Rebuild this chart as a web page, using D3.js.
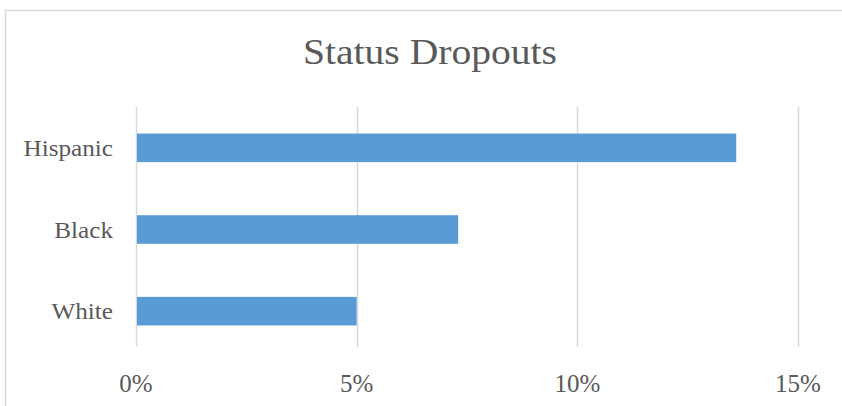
<!DOCTYPE html>
<html>
<head>
<meta charset="utf-8">
<script src="https://d3js.org/d3.v7.min.js"></script>
<style>
  body { margin: 0; background: #fff; }
  svg { display: block; }
  text { font-family: "Liberation Serif", "DejaVu Serif", serif; fill: #595959; }
</style>
</head>
<body>
<div id="chart"></div>
<script>
// data
const categories = ["Hispanic", "Black", "White"];
const values = [0.136, 0.073, 0.050];
const xTicks = [0, 0.05, 0.10, 0.15];
const title = "Status Dropouts";

const W = 842, H = 406;
const svg = d3.select("#chart").append("svg")
  .attr("width", W)
  .attr("height", H);

// chart frame
svg.append("rect")
  .attr("x", 5.5).attr("y", 10.5)
  .attr("width", W).attr("height", H)
  .style("fill", "none")
  .style("stroke", "#d9d9d9")
  .style("stroke-width", 1.5);

const x = d3.scaleLinear().domain([0, 0.15]).range([136, 798]);
const y = d3.scaleBand().domain(categories).range([107, 352])
  .paddingInner(0.65).paddingOuter(0.325);
const gridTop = 107, gridBottom = 347;

// gridlines
svg.append("g")
  .selectAll("line")
  .data(xTicks)
  .join("line")
  .attr("x1", d => Math.round(x(d)) + 0.5)
  .attr("x2", d => Math.round(x(d)) + 0.5)
  .attr("y1", gridTop)
  .attr("y2", gridBottom)
  .style("stroke", "#d9d9d9")
  .style("stroke-width", 1.5);

// bars
svg.append("g")
  .selectAll("rect")
  .data(values)
  .join("rect")
  .attr("x", x(0) + 1)
  .attr("y", (d, i) => y(categories[i]))
  .attr("width", d => x(d) - x(0) - 1)
  .attr("height", y.bandwidth())
  .style("fill", "#5b9bd5");

// category labels
svg.append("g")
  .selectAll("text")
  .data(categories)
  .join("text")
  .attr("transform", d => "translate(113," + (y(d) + y.bandwidth() / 2 + 8) + ") scale(1.05,1)")
  .attr("text-anchor", "end")
  .style("font-size", "24px")
  .text(d => d);

// x tick labels
const fmt = d3.format(".0%");
svg.append("g")
  .selectAll("text")
  .data(xTicks)
  .join("text")
  .attr("x", d => x(d))
  .attr("y", 392)
  .attr("text-anchor", "middle")
  .style("font-size", "25px")
  .text(d => fmt(d));

// title
svg.append("text")
  .attr("transform", "translate(430,64) scale(1.1,1)")
  .attr("text-anchor", "middle")
  .style("font-size", "36px")
  .text(title);
</script>
</body>
</html>
